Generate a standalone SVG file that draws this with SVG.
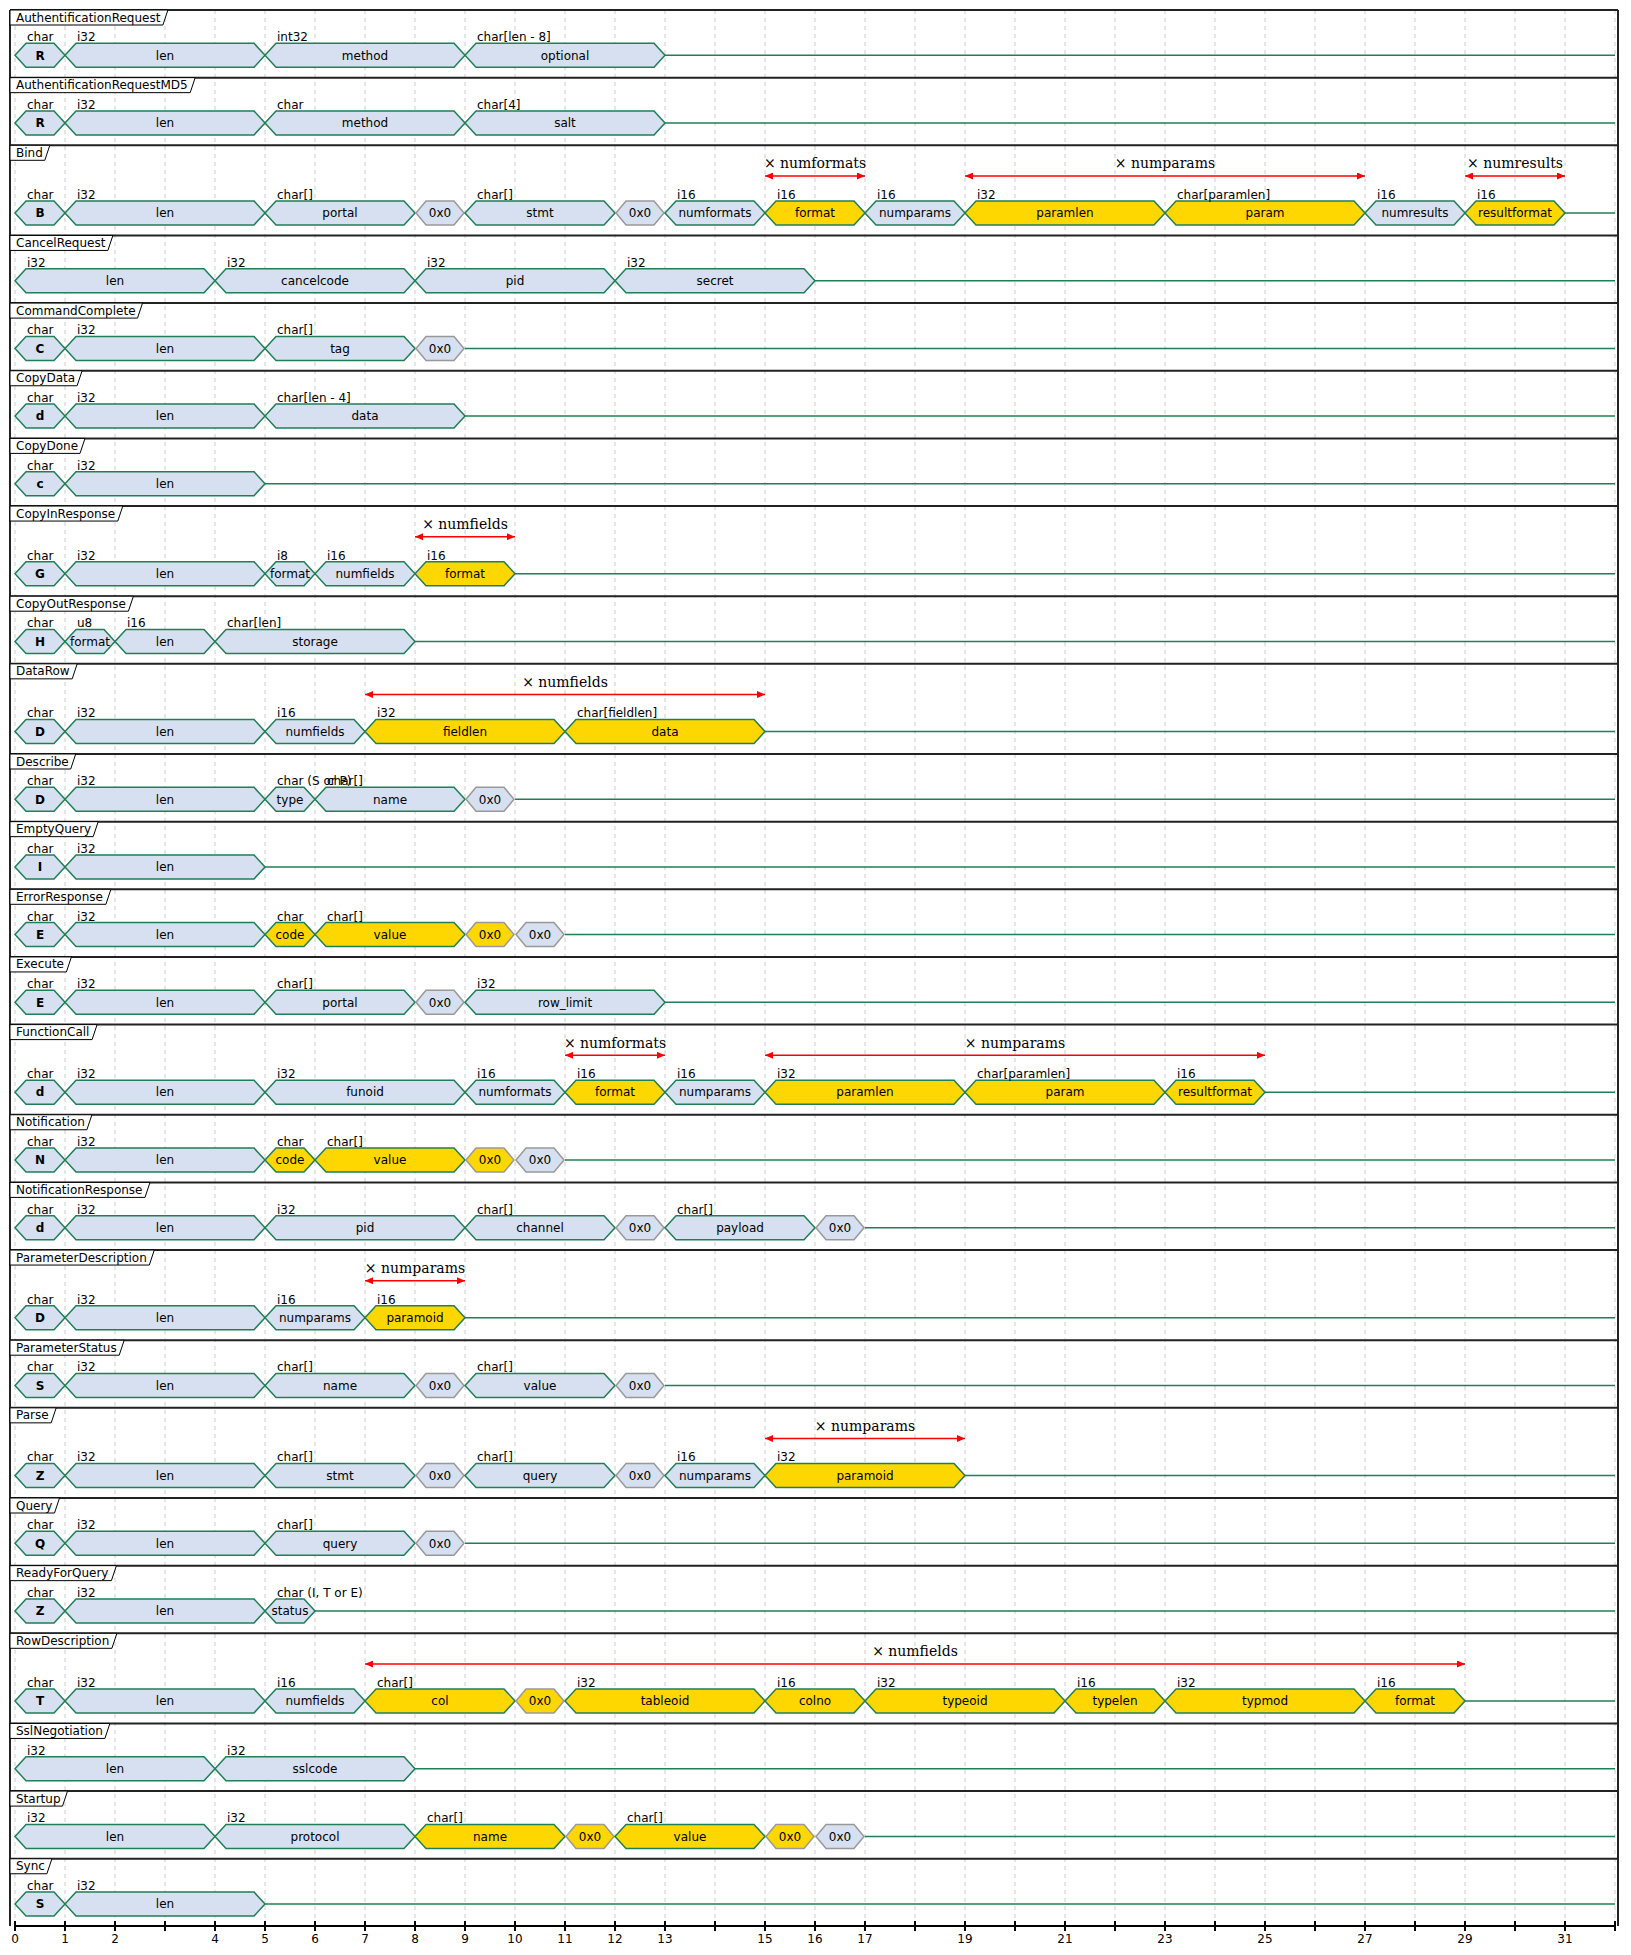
<svg xmlns="http://www.w3.org/2000/svg" width="1631" height="1955" viewBox="0 0 1631 1955">
<style>
.n{fill:#d6e0f0;stroke:#1f7f55;stroke-width:1.5}
.y{fill:#ffd700;stroke:#1f7f55;stroke-width:1.5}
.g{fill:#d6e0f0;stroke:#999;stroke-width:1.5}
.yg{fill:#ffd700;stroke:#999;stroke-width:1.5}
.ln{stroke:#1f7f55;stroke-width:1.5;fill:none}
text{font-family:"DejaVu Sans",sans-serif;font-size:12px;fill:#000}
.c{text-anchor:middle}
.b{font-weight:bold}
.r{font-family:"DejaVu Serif",serif;font-size:14px;text-anchor:middle}
.ar{stroke:#f00;stroke-width:1.5;fill:none;marker-start:url(#ah);marker-end:url(#ah)}
.hd{fill:#fff;stroke:#000;stroke-width:1}
.sep{stroke:#222;stroke-width:2;fill:none}
.grid{stroke:#ccc;stroke-dasharray:4 4;stroke-width:1;fill:none}
.ax{stroke:#000;stroke-width:2;fill:none}
</style>
<defs>
<marker id="ah" viewBox="0 0 8 7" refX="8" refY="3.5" markerWidth="8" markerHeight="7" markerUnits="userSpaceOnUse" orient="auto-start-reverse"><path d="M0,0L8,3.5L0,7z" fill="#f00"/></marker>
</defs>
<rect width="1631" height="1955" fill="#fff"/>
<path class="grid" d="M15,10V1926M65,10V1926M115,10V1926M165,10V1926M215,10V1926M265,10V1926M315,10V1926M365,10V1926M415,10V1926M465,10V1926M515,10V1926M565,10V1926M615,10V1926M665,10V1926M715,10V1926M765,10V1926M815,10V1926M865,10V1926M915,10V1926M965,10V1926M1015,10V1926M1065,10V1926M1115,10V1926M1165,10V1926M1215,10V1926M1265,10V1926M1315,10V1926M1365,10V1926M1415,10V1926M1465,10V1926M1515,10V1926M1565,10V1926M1615,10V1926"/>
<path class="sep" d="M10,10H1618M10,77.65H1618M10,145.3H1618M10,235.45H1618M10,303.1H1618M10,370.75H1618M10,438.4H1618M10,506.05H1618M10,596.2H1618M10,663.85H1618M10,754H1618M10,821.65H1618M10,889.3H1618M10,956.95H1618M10,1024.6H1618M10,1114.75H1618M10,1182.4H1618M10,1250.05H1618M10,1340.2H1618M10,1407.85H1618M10,1498H1618M10,1565.65H1618M10,1633.3H1618M10,1723.45H1618M10,1791.1H1618M10,1858.75H1618M10,10V1926M1618,10V1926"/>

<g id="connectors">
<g transform="translate(0,10)"><path class="ln" d="M665,45.3H1615"/></g>
<g transform="translate(0,77.65)"><path class="ln" d="M665,45.3H1615"/></g>
<g transform="translate(0,145.3)"><path class="ln" d="M1565,67.6H1615"/>
<path class="ar" d="M765,30.7H865"/><text class="r" x="815" y="23">× numformats</text>
<path class="ar" d="M965,30.7H1365"/><text class="r" x="1165" y="23">× numparams</text>
<path class="ar" d="M1465,30.7H1565"/><text class="r" x="1515" y="23">× numresults</text></g>
<g transform="translate(0,235.45)"><path class="ln" d="M815,45.3H1615"/></g>
<g transform="translate(0,303.1)"><path class="ln" d="M465,45.3H1615"/></g>
<g transform="translate(0,370.75)"><path class="ln" d="M465,45.3H1615"/></g>
<g transform="translate(0,438.4)"><path class="ln" d="M265,45.3H1615"/></g>
<g transform="translate(0,506.05)"><path class="ln" d="M515,67.6H1615"/>
<path class="ar" d="M415,30.7H515"/><text class="r" x="465" y="23">× numfields</text></g>
<g transform="translate(0,596.2)"><path class="ln" d="M415,45.3H1615"/></g>
<g transform="translate(0,663.85)"><path class="ln" d="M765,67.6H1615"/>
<path class="ar" d="M365,30.7H765"/><text class="r" x="565" y="23">× numfields</text></g>
<g transform="translate(0,754)"><path class="ln" d="M515,45.3H1615"/></g>
<g transform="translate(0,821.65)"><path class="ln" d="M265,45.3H1615"/></g>
<g transform="translate(0,889.3)"><path class="ln" d="M565,45.3H1615"/></g>
<g transform="translate(0,956.95)"><path class="ln" d="M665,45.3H1615"/></g>
<g transform="translate(0,1024.6)"><path class="ln" d="M1265,67.6H1615"/>
<path class="ar" d="M565,30.7H665"/><text class="r" x="615" y="23">× numformats</text>
<path class="ar" d="M765,30.7H1265"/><text class="r" x="1015" y="23">× numparams</text></g>
<g transform="translate(0,1114.75)"><path class="ln" d="M565,45.3H1615"/></g>
<g transform="translate(0,1182.4)"><path class="ln" d="M865,45.3H1615"/></g>
<g transform="translate(0,1250.05)"><path class="ln" d="M465,67.6H1615"/>
<path class="ar" d="M365,30.7H465"/><text class="r" x="415" y="23">× numparams</text></g>
<g transform="translate(0,1340.2)"><path class="ln" d="M665,45.3H1615"/></g>
<g transform="translate(0,1407.85)"><path class="ln" d="M965,67.6H1615"/>
<path class="ar" d="M765,30.7H965"/><text class="r" x="865" y="23">× numparams</text></g>
<g transform="translate(0,1498)"><path class="ln" d="M465,45.3H1615"/></g>
<g transform="translate(0,1565.65)"><path class="ln" d="M315,45.3H1615"/></g>
<g transform="translate(0,1633.3)"><path class="ln" d="M1465,67.6H1615"/>
<path class="ar" d="M365,30.7H1465"/><text class="r" x="915" y="23">× numfields</text></g>
<g transform="translate(0,1723.45)"><path class="ln" d="M415,45.3H1615"/></g>
<g transform="translate(0,1791.1)"><path class="ln" d="M865,45.3H1615"/></g>
<g transform="translate(0,1858.75)"><path class="ln" d="M265,45.3H1615"/></g>
</g>

<g id="AuthentificationRequest" transform="translate(0,10)">
<path class="hd" d="M10,0H167.9L162.9,15H10z"/><text x="16" y="11.5">AuthentificationRequest</text>
<g id="r1-R"><path class="n" d="M15,45.3l11,-12h28l11,12l-11,12h-28z"/><text x="27" y="31.3">char</text><text class="c b" x="40" y="49.6">R</text></g>
<g id="r1-len"><path class="n" d="M65,45.3l11,-12h178l11,12l-11,12h-178z"/><text x="77" y="31.3">i32</text><text class="c" x="165" y="49.6">len</text></g>
<g id="r1-method"><path class="n" d="M265,45.3l11,-12h178l11,12l-11,12h-178z"/><text x="277" y="31.3">int32</text><text class="c" x="365" y="49.6">method</text></g>
<g id="r1-optional"><path class="n" d="M465,45.3l11,-12h178l11,12l-11,12h-178z"/><text x="477" y="31.3">char[len - 8]</text><text class="c" x="565" y="49.6">optional</text></g>
</g>

<g id="AuthentificationRequestMD5" transform="translate(0,77.65)">
<path class="hd" d="M10,0H195.2L190.2,15H10z"/><text x="16" y="11.5">AuthentificationRequestMD5</text>
<g id="r2-R"><path class="n" d="M15,45.3l11,-12h28l11,12l-11,12h-28z"/><text x="27" y="31.3">char</text><text class="c b" x="40" y="49.6">R</text></g>
<g id="r2-len"><path class="n" d="M65,45.3l11,-12h178l11,12l-11,12h-178z"/><text x="77" y="31.3">i32</text><text class="c" x="165" y="49.6">len</text></g>
<g id="r2-method"><path class="n" d="M265,45.3l11,-12h178l11,12l-11,12h-178z"/><text x="277" y="31.3">char</text><text class="c" x="365" y="49.6">method</text></g>
<g id="r2-salt"><path class="n" d="M465,45.3l11,-12h178l11,12l-11,12h-178z"/><text x="477" y="31.3">char[4]</text><text class="c" x="565" y="49.6">salt</text></g>
</g>

<g id="Bind" transform="translate(0,145.3)">
<path class="hd" d="M10,0H49.8L44.8,15H10z"/><text x="16" y="11.5">Bind</text>
<g id="r3-B"><path class="n" d="M15,67.6l11,-12h28l11,12l-11,12h-28z"/><text x="27" y="53.6">char</text><text class="c b" x="40" y="71.9">B</text></g>
<g id="r3-len"><path class="n" d="M65,67.6l11,-12h178l11,12l-11,12h-178z"/><text x="77" y="53.6">i32</text><text class="c" x="165" y="71.9">len</text></g>
<g id="r3-portal"><path class="n" d="M265,67.6l11,-12h128l11,12l-11,12h-128z"/><text x="277" y="53.6">char[]</text><text class="c" x="340" y="71.9">portal</text></g>
<g id="r3-nul1"><path class="g" d="M416,67.6l10,-12h28l10,12l-10,12h-28z"/><text class="c" x="440" y="71.9">0x0</text></g>
<g id="r3-stmt"><path class="n" d="M465,67.6l11,-12h128l11,12l-11,12h-128z"/><text x="477" y="53.6">char[]</text><text class="c" x="540" y="71.9">stmt</text></g>
<g id="r3-nul2"><path class="g" d="M616,67.6l10,-12h28l10,12l-10,12h-28z"/><text class="c" x="640" y="71.9">0x0</text></g>
<g id="r3-numformats"><path class="n" d="M665,67.6l11,-12h78l11,12l-11,12h-78z"/><text x="677" y="53.6">i16</text><text class="c" x="715" y="71.9">numformats</text></g>
<g id="r3-format"><path class="y" d="M765,67.6l11,-12h78l11,12l-11,12h-78z"/><text x="777" y="53.6">i16</text><text class="c" x="815" y="71.9">format</text></g>
<g id="r3-numparams"><path class="n" d="M865,67.6l11,-12h78l11,12l-11,12h-78z"/><text x="877" y="53.6">i16</text><text class="c" x="915" y="71.9">numparams</text></g>
<g id="r3-paramlen"><path class="y" d="M965,67.6l11,-12h178l11,12l-11,12h-178z"/><text x="977" y="53.6">i32</text><text class="c" x="1065" y="71.9">paramlen</text></g>
<g id="r3-param"><path class="y" d="M1165,67.6l11,-12h178l11,12l-11,12h-178z"/><text x="1177" y="53.6">char[paramlen]</text><text class="c" x="1265" y="71.9">param</text></g>
<g id="r3-numresults"><path class="n" d="M1365,67.6l11,-12h78l11,12l-11,12h-78z"/><text x="1377" y="53.6">i16</text><text class="c" x="1415" y="71.9">numresults</text></g>
<g id="r3-resultformat"><path class="y" d="M1465,67.6l11,-12h78l11,12l-11,12h-78z"/><text x="1477" y="53.6">i16</text><text class="c" x="1515" y="71.9">resultformat</text></g>
</g>

<g id="CancelRequest" transform="translate(0,235.45)">
<path class="hd" d="M10,0H112.9L107.9,15H10z"/><text x="16" y="11.5">CancelRequest</text>
<g id="r4-len"><path class="n" d="M15,45.3l11,-12h178l11,12l-11,12h-178z"/><text x="27" y="31.3">i32</text><text class="c" x="115" y="49.6">len</text></g>
<g id="r4-cancelcode"><path class="n" d="M215,45.3l11,-12h178l11,12l-11,12h-178z"/><text x="227" y="31.3">i32</text><text class="c" x="315" y="49.6">cancelcode</text></g>
<g id="r4-pid"><path class="n" d="M415,45.3l11,-12h178l11,12l-11,12h-178z"/><text x="427" y="31.3">i32</text><text class="c" x="515" y="49.6">pid</text></g>
<g id="r4-secret"><path class="n" d="M615,45.3l11,-12h178l11,12l-11,12h-178z"/><text x="627" y="31.3">i32</text><text class="c" x="715" y="49.6">secret</text></g>
</g>

<g id="CommandComplete" transform="translate(0,303.1)">
<path class="hd" d="M10,0H142.5L137.5,15H10z"/><text x="16" y="11.5">CommandComplete</text>
<g id="r5-C"><path class="n" d="M15,45.3l11,-12h28l11,12l-11,12h-28z"/><text x="27" y="31.3">char</text><text class="c b" x="40" y="49.6">C</text></g>
<g id="r5-len"><path class="n" d="M65,45.3l11,-12h178l11,12l-11,12h-178z"/><text x="77" y="31.3">i32</text><text class="c" x="165" y="49.6">len</text></g>
<g id="r5-tag"><path class="n" d="M265,45.3l11,-12h128l11,12l-11,12h-128z"/><text x="277" y="31.3">char[]</text><text class="c" x="340" y="49.6">tag</text></g>
<g id="r5-nul"><path class="g" d="M416,45.3l10,-12h28l10,12l-10,12h-28z"/><text class="c" x="440" y="49.6">0x0</text></g>
</g>

<g id="CopyData" transform="translate(0,370.75)">
<path class="hd" d="M10,0H82.1L77.1,15H10z"/><text x="16" y="11.5">CopyData</text>
<g id="r6-d"><path class="n" d="M15,45.3l11,-12h28l11,12l-11,12h-28z"/><text x="27" y="31.3">char</text><text class="c b" x="40" y="49.6">d</text></g>
<g id="r6-len"><path class="n" d="M65,45.3l11,-12h178l11,12l-11,12h-178z"/><text x="77" y="31.3">i32</text><text class="c" x="165" y="49.6">len</text></g>
<g id="r6-data"><path class="n" d="M265,45.3l11,-12h178l11,12l-11,12h-178z"/><text x="277" y="31.3">char[len - 4]</text><text class="c" x="365" y="49.6">data</text></g>
</g>

<g id="CopyDone" transform="translate(0,438.4)">
<path class="hd" d="M10,0H85L80,15H10z"/><text x="16" y="11.5">CopyDone</text>
<g id="r7-c"><path class="n" d="M15,45.3l11,-12h28l11,12l-11,12h-28z"/><text x="27" y="31.3">char</text><text class="c b" x="40" y="49.6">c</text></g>
<g id="r7-len"><path class="n" d="M65,45.3l11,-12h178l11,12l-11,12h-178z"/><text x="77" y="31.3">i32</text><text class="c" x="165" y="49.6">len</text></g>
</g>

<g id="CopyInResponse" transform="translate(0,506.05)">
<path class="hd" d="M10,0H122.8L117.8,15H10z"/><text x="16" y="11.5">CopyInResponse</text>
<g id="r8-G"><path class="n" d="M15,67.6l11,-12h28l11,12l-11,12h-28z"/><text x="27" y="53.6">char</text><text class="c b" x="40" y="71.9">G</text></g>
<g id="r8-len"><path class="n" d="M65,67.6l11,-12h178l11,12l-11,12h-178z"/><text x="77" y="53.6">i32</text><text class="c" x="165" y="71.9">len</text></g>
<g id="r8-format1"><path class="n" d="M265,67.6l11,-12h28l11,12l-11,12h-28z"/><text x="277" y="53.6">i8</text><text class="c" x="290" y="71.9">format</text></g>
<g id="r8-numfields"><path class="n" d="M315,67.6l11,-12h78l11,12l-11,12h-78z"/><text x="327" y="53.6">i16</text><text class="c" x="365" y="71.9">numfields</text></g>
<g id="r8-format2"><path class="y" d="M415,67.6l11,-12h78l11,12l-11,12h-78z"/><text x="427" y="53.6">i16</text><text class="c" x="465" y="71.9">format</text></g>
</g>

<g id="CopyOutResponse" transform="translate(0,596.2)">
<path class="hd" d="M10,0H133.4L128.4,15H10z"/><text x="16" y="11.5">CopyOutResponse</text>
<g id="r9-H"><path class="n" d="M15,45.3l11,-12h28l11,12l-11,12h-28z"/><text x="27" y="31.3">char</text><text class="c b" x="40" y="49.6">H</text></g>
<g id="r9-format"><path class="n" d="M65,45.3l11,-12h28l11,12l-11,12h-28z"/><text x="77" y="31.3">u8</text><text class="c" x="90" y="49.6">format</text></g>
<g id="r9-len"><path class="n" d="M115,45.3l11,-12h78l11,12l-11,12h-78z"/><text x="127" y="31.3">i16</text><text class="c" x="165" y="49.6">len</text></g>
<g id="r9-storage"><path class="n" d="M215,45.3l11,-12h178l11,12l-11,12h-178z"/><text x="227" y="31.3">char[len]</text><text class="c" x="315" y="49.6">storage</text></g>
</g>

<g id="DataRow" transform="translate(0,663.85)">
<path class="hd" d="M10,0H77.2L72.2,15H10z"/><text x="16" y="11.5">DataRow</text>
<g id="r10-D"><path class="n" d="M15,67.6l11,-12h28l11,12l-11,12h-28z"/><text x="27" y="53.6">char</text><text class="c b" x="40" y="71.9">D</text></g>
<g id="r10-len"><path class="n" d="M65,67.6l11,-12h178l11,12l-11,12h-178z"/><text x="77" y="53.6">i32</text><text class="c" x="165" y="71.9">len</text></g>
<g id="r10-numfields"><path class="n" d="M265,67.6l11,-12h78l11,12l-11,12h-78z"/><text x="277" y="53.6">i16</text><text class="c" x="315" y="71.9">numfields</text></g>
<g id="r10-fieldlen"><path class="y" d="M365,67.6l11,-12h178l11,12l-11,12h-178z"/><text x="377" y="53.6">i32</text><text class="c" x="465" y="71.9">fieldlen</text></g>
<g id="r10-data"><path class="y" d="M565,67.6l11,-12h178l11,12l-11,12h-178z"/><text x="577" y="53.6">char[fieldlen]</text><text class="c" x="665" y="71.9">data</text></g>
</g>

<g id="Describe" transform="translate(0,754)">
<path class="hd" d="M10,0H75.7L70.7,15H10z"/><text x="16" y="11.5">Describe</text>
<g id="r11-D"><path class="n" d="M15,45.3l11,-12h28l11,12l-11,12h-28z"/><text x="27" y="31.3">char</text><text class="c b" x="40" y="49.6">D</text></g>
<g id="r11-len"><path class="n" d="M65,45.3l11,-12h178l11,12l-11,12h-178z"/><text x="77" y="31.3">i32</text><text class="c" x="165" y="49.6">len</text></g>
<g id="r11-type"><path class="n" d="M265,45.3l11,-12h28l11,12l-11,12h-28z"/><text x="277" y="31.3">char (S or P)</text><text class="c" x="290" y="49.6">type</text></g>
<g id="r11-name"><path class="n" d="M315,45.3l11,-12h128l11,12l-11,12h-128z"/><text x="327" y="31.3">char[]</text><text class="c" x="390" y="49.6">name</text></g>
<g id="r11-nul"><path class="g" d="M466,45.3l10,-12h28l10,12l-10,12h-28z"/><text class="c" x="490" y="49.6">0x0</text></g>
</g>

<g id="EmptyQuery" transform="translate(0,821.65)">
<path class="hd" d="M10,0H98.2L93.2,15H10z"/><text x="16" y="11.5">EmptyQuery</text>
<g id="r12-I"><path class="n" d="M15,45.3l11,-12h28l11,12l-11,12h-28z"/><text x="27" y="31.3">char</text><text class="c b" x="40" y="49.6">I</text></g>
<g id="r12-len"><path class="n" d="M65,45.3l11,-12h178l11,12l-11,12h-178z"/><text x="77" y="31.3">i32</text><text class="c" x="165" y="49.6">len</text></g>
</g>

<g id="ErrorResponse" transform="translate(0,889.3)">
<path class="hd" d="M10,0H110.9L105.9,15H10z"/><text x="16" y="11.5">ErrorResponse</text>
<g id="r13-E"><path class="n" d="M15,45.3l11,-12h28l11,12l-11,12h-28z"/><text x="27" y="31.3">char</text><text class="c b" x="40" y="49.6">E</text></g>
<g id="r13-len"><path class="n" d="M65,45.3l11,-12h178l11,12l-11,12h-178z"/><text x="77" y="31.3">i32</text><text class="c" x="165" y="49.6">len</text></g>
<g id="r13-code"><path class="y" d="M265,45.3l11,-12h28l11,12l-11,12h-28z"/><text x="277" y="31.3">char</text><text class="c" x="290" y="49.6">code</text></g>
<g id="r13-value"><path class="y" d="M315,45.3l11,-12h128l11,12l-11,12h-128z"/><text x="327" y="31.3">char[]</text><text class="c" x="390" y="49.6">value</text></g>
<g id="r13-nul1"><path class="yg" d="M466,45.3l10,-12h28l10,12l-10,12h-28z"/><text class="c" x="490" y="49.6">0x0</text></g>
<g id="r13-nul2"><path class="g" d="M516,45.3l10,-12h28l10,12l-10,12h-28z"/><text class="c" x="540" y="49.6">0x0</text></g>
</g>

<g id="Execute" transform="translate(0,956.95)">
<path class="hd" d="M10,0H71.4L66.4,15H10z"/><text x="16" y="11.5">Execute</text>
<g id="r14-E"><path class="n" d="M15,45.3l11,-12h28l11,12l-11,12h-28z"/><text x="27" y="31.3">char</text><text class="c b" x="40" y="49.6">E</text></g>
<g id="r14-len"><path class="n" d="M65,45.3l11,-12h178l11,12l-11,12h-178z"/><text x="77" y="31.3">i32</text><text class="c" x="165" y="49.6">len</text></g>
<g id="r14-portal"><path class="n" d="M265,45.3l11,-12h128l11,12l-11,12h-128z"/><text x="277" y="31.3">char[]</text><text class="c" x="340" y="49.6">portal</text></g>
<g id="r14-nul"><path class="g" d="M416,45.3l10,-12h28l10,12l-10,12h-28z"/><text class="c" x="440" y="49.6">0x0</text></g>
<g id="r14-row_limit"><path class="n" d="M465,45.3l11,-12h178l11,12l-11,12h-178z"/><text x="477" y="31.3">i32</text><text class="c" x="565" y="49.6">row_limit</text></g>
</g>

<g id="FunctionCall" transform="translate(0,1024.6)">
<path class="hd" d="M10,0H97.1L92.1,15H10z"/><text x="16" y="11.5">FunctionCall</text>
<g id="r15-d"><path class="n" d="M15,67.6l11,-12h28l11,12l-11,12h-28z"/><text x="27" y="53.6">char</text><text class="c b" x="40" y="71.9">d</text></g>
<g id="r15-len"><path class="n" d="M65,67.6l11,-12h178l11,12l-11,12h-178z"/><text x="77" y="53.6">i32</text><text class="c" x="165" y="71.9">len</text></g>
<g id="r15-funoid"><path class="n" d="M265,67.6l11,-12h178l11,12l-11,12h-178z"/><text x="277" y="53.6">i32</text><text class="c" x="365" y="71.9">funoid</text></g>
<g id="r15-numformats"><path class="n" d="M465,67.6l11,-12h78l11,12l-11,12h-78z"/><text x="477" y="53.6">i16</text><text class="c" x="515" y="71.9">numformats</text></g>
<g id="r15-format"><path class="y" d="M565,67.6l11,-12h78l11,12l-11,12h-78z"/><text x="577" y="53.6">i16</text><text class="c" x="615" y="71.9">format</text></g>
<g id="r15-numparams"><path class="n" d="M665,67.6l11,-12h78l11,12l-11,12h-78z"/><text x="677" y="53.6">i16</text><text class="c" x="715" y="71.9">numparams</text></g>
<g id="r15-paramlen"><path class="y" d="M765,67.6l11,-12h178l11,12l-11,12h-178z"/><text x="777" y="53.6">i32</text><text class="c" x="865" y="71.9">paramlen</text></g>
<g id="r15-param"><path class="y" d="M965,67.6l11,-12h178l11,12l-11,12h-178z"/><text x="977" y="53.6">char[paramlen]</text><text class="c" x="1065" y="71.9">param</text></g>
<g id="r15-resultformat"><path class="y" d="M1165,67.6l11,-12h78l11,12l-11,12h-78z"/><text x="1177" y="53.6">i16</text><text class="c" x="1215" y="71.9">resultformat</text></g>
</g>

<g id="Notification" transform="translate(0,1114.75)">
<path class="hd" d="M10,0H91.9L86.9,15H10z"/><text x="16" y="11.5">Notification</text>
<g id="r16-N"><path class="n" d="M15,45.3l11,-12h28l11,12l-11,12h-28z"/><text x="27" y="31.3">char</text><text class="c b" x="40" y="49.6">N</text></g>
<g id="r16-len"><path class="n" d="M65,45.3l11,-12h178l11,12l-11,12h-178z"/><text x="77" y="31.3">i32</text><text class="c" x="165" y="49.6">len</text></g>
<g id="r16-code"><path class="y" d="M265,45.3l11,-12h28l11,12l-11,12h-28z"/><text x="277" y="31.3">char</text><text class="c" x="290" y="49.6">code</text></g>
<g id="r16-value"><path class="y" d="M315,45.3l11,-12h128l11,12l-11,12h-128z"/><text x="327" y="31.3">char[]</text><text class="c" x="390" y="49.6">value</text></g>
<g id="r16-nul1"><path class="yg" d="M466,45.3l10,-12h28l10,12l-10,12h-28z"/><text class="c" x="490" y="49.6">0x0</text></g>
<g id="r16-nul2"><path class="g" d="M516,45.3l10,-12h28l10,12l-10,12h-28z"/><text class="c" x="540" y="49.6">0x0</text></g>
</g>

<g id="NotificationResponse" transform="translate(0,1182.4)">
<path class="hd" d="M10,0H150L145,15H10z"/><text x="16" y="11.5">NotificationResponse</text>
<g id="r17-d"><path class="n" d="M15,45.3l11,-12h28l11,12l-11,12h-28z"/><text x="27" y="31.3">char</text><text class="c b" x="40" y="49.6">d</text></g>
<g id="r17-len"><path class="n" d="M65,45.3l11,-12h178l11,12l-11,12h-178z"/><text x="77" y="31.3">i32</text><text class="c" x="165" y="49.6">len</text></g>
<g id="r17-pid"><path class="n" d="M265,45.3l11,-12h178l11,12l-11,12h-178z"/><text x="277" y="31.3">i32</text><text class="c" x="365" y="49.6">pid</text></g>
<g id="r17-channel"><path class="n" d="M465,45.3l11,-12h128l11,12l-11,12h-128z"/><text x="477" y="31.3">char[]</text><text class="c" x="540" y="49.6">channel</text></g>
<g id="r17-nul1"><path class="g" d="M616,45.3l10,-12h28l10,12l-10,12h-28z"/><text class="c" x="640" y="49.6">0x0</text></g>
<g id="r17-payload"><path class="n" d="M665,45.3l11,-12h128l11,12l-11,12h-128z"/><text x="677" y="31.3">char[]</text><text class="c" x="740" y="49.6">payload</text></g>
<g id="r17-nul2"><path class="g" d="M816,45.3l10,-12h28l10,12l-10,12h-28z"/><text class="c" x="840" y="49.6">0x0</text></g>
</g>

<g id="ParameterDescription" transform="translate(0,1250.05)">
<path class="hd" d="M10,0H154.3L149.3,15H10z"/><text x="16" y="11.5">ParameterDescription</text>
<g id="r18-D"><path class="n" d="M15,67.6l11,-12h28l11,12l-11,12h-28z"/><text x="27" y="53.6">char</text><text class="c b" x="40" y="71.9">D</text></g>
<g id="r18-len"><path class="n" d="M65,67.6l11,-12h178l11,12l-11,12h-178z"/><text x="77" y="53.6">i32</text><text class="c" x="165" y="71.9">len</text></g>
<g id="r18-numparams"><path class="n" d="M265,67.6l11,-12h78l11,12l-11,12h-78z"/><text x="277" y="53.6">i16</text><text class="c" x="315" y="71.9">numparams</text></g>
<g id="r18-paramoid"><path class="y" d="M365,67.6l11,-12h78l11,12l-11,12h-78z"/><text x="377" y="53.6">i16</text><text class="c" x="415" y="71.9">paramoid</text></g>
</g>

<g id="ParameterStatus" transform="translate(0,1340.2)">
<path class="hd" d="M10,0H124.2L119.2,15H10z"/><text x="16" y="11.5">ParameterStatus</text>
<g id="r19-S"><path class="n" d="M15,45.3l11,-12h28l11,12l-11,12h-28z"/><text x="27" y="31.3">char</text><text class="c b" x="40" y="49.6">S</text></g>
<g id="r19-len"><path class="n" d="M65,45.3l11,-12h178l11,12l-11,12h-178z"/><text x="77" y="31.3">i32</text><text class="c" x="165" y="49.6">len</text></g>
<g id="r19-name"><path class="n" d="M265,45.3l11,-12h128l11,12l-11,12h-128z"/><text x="277" y="31.3">char[]</text><text class="c" x="340" y="49.6">name</text></g>
<g id="r19-nul1"><path class="g" d="M416,45.3l10,-12h28l10,12l-10,12h-28z"/><text class="c" x="440" y="49.6">0x0</text></g>
<g id="r19-value"><path class="n" d="M465,45.3l11,-12h128l11,12l-11,12h-128z"/><text x="477" y="31.3">char[]</text><text class="c" x="540" y="49.6">value</text></g>
<g id="r19-nul2"><path class="g" d="M616,45.3l10,-12h28l10,12l-10,12h-28z"/><text class="c" x="640" y="49.6">0x0</text></g>
</g>

<g id="Parse" transform="translate(0,1407.85)">
<path class="hd" d="M10,0H56.2L51.2,15H10z"/><text x="16" y="11.5">Parse</text>
<g id="r20-Z"><path class="n" d="M15,67.6l11,-12h28l11,12l-11,12h-28z"/><text x="27" y="53.6">char</text><text class="c b" x="40" y="71.9">Z</text></g>
<g id="r20-len"><path class="n" d="M65,67.6l11,-12h178l11,12l-11,12h-178z"/><text x="77" y="53.6">i32</text><text class="c" x="165" y="71.9">len</text></g>
<g id="r20-stmt"><path class="n" d="M265,67.6l11,-12h128l11,12l-11,12h-128z"/><text x="277" y="53.6">char[]</text><text class="c" x="340" y="71.9">stmt</text></g>
<g id="r20-nul1"><path class="g" d="M416,67.6l10,-12h28l10,12l-10,12h-28z"/><text class="c" x="440" y="71.9">0x0</text></g>
<g id="r20-query"><path class="n" d="M465,67.6l11,-12h128l11,12l-11,12h-128z"/><text x="477" y="53.6">char[]</text><text class="c" x="540" y="71.9">query</text></g>
<g id="r20-nul2"><path class="g" d="M616,67.6l10,-12h28l10,12l-10,12h-28z"/><text class="c" x="640" y="71.9">0x0</text></g>
<g id="r20-numparams"><path class="n" d="M665,67.6l11,-12h78l11,12l-11,12h-78z"/><text x="677" y="53.6">i16</text><text class="c" x="715" y="71.9">numparams</text></g>
<g id="r20-paramoid"><path class="y" d="M765,67.6l11,-12h178l11,12l-11,12h-178z"/><text x="777" y="53.6">i32</text><text class="c" x="865" y="71.9">paramoid</text></g>
</g>

<g id="Query" transform="translate(0,1498)">
<path class="hd" d="M10,0H59.5L54.5,15H10z"/><text x="16" y="11.5">Query</text>
<g id="r21-Q"><path class="n" d="M15,45.3l11,-12h28l11,12l-11,12h-28z"/><text x="27" y="31.3">char</text><text class="c b" x="40" y="49.6">Q</text></g>
<g id="r21-len"><path class="n" d="M65,45.3l11,-12h178l11,12l-11,12h-178z"/><text x="77" y="31.3">i32</text><text class="c" x="165" y="49.6">len</text></g>
<g id="r21-query"><path class="n" d="M265,45.3l11,-12h128l11,12l-11,12h-128z"/><text x="277" y="31.3">char[]</text><text class="c" x="340" y="49.6">query</text></g>
<g id="r21-nul"><path class="g" d="M416,45.3l10,-12h28l10,12l-10,12h-28z"/><text class="c" x="440" y="49.6">0x0</text></g>
</g>

<g id="ReadyForQuery" transform="translate(0,1565.65)">
<path class="hd" d="M10,0H116.4L111.4,15H10z"/><text x="16" y="11.5">ReadyForQuery</text>
<g id="r22-Z"><path class="n" d="M15,45.3l11,-12h28l11,12l-11,12h-28z"/><text x="27" y="31.3">char</text><text class="c b" x="40" y="49.6">Z</text></g>
<g id="r22-len"><path class="n" d="M65,45.3l11,-12h178l11,12l-11,12h-178z"/><text x="77" y="31.3">i32</text><text class="c" x="165" y="49.6">len</text></g>
<g id="r22-status"><path class="n" d="M265,45.3l11,-12h28l11,12l-11,12h-28z"/><text x="277" y="31.3">char (I, T or E)</text><text class="c" x="290" y="49.6">status</text></g>
</g>

<g id="RowDescription" transform="translate(0,1633.3)">
<path class="hd" d="M10,0H116.9L111.9,15H10z"/><text x="16" y="11.5">RowDescription</text>
<g id="r23-T"><path class="n" d="M15,67.6l11,-12h28l11,12l-11,12h-28z"/><text x="27" y="53.6">char</text><text class="c b" x="40" y="71.9">T</text></g>
<g id="r23-len"><path class="n" d="M65,67.6l11,-12h178l11,12l-11,12h-178z"/><text x="77" y="53.6">i32</text><text class="c" x="165" y="71.9">len</text></g>
<g id="r23-numfields"><path class="n" d="M265,67.6l11,-12h78l11,12l-11,12h-78z"/><text x="277" y="53.6">i16</text><text class="c" x="315" y="71.9">numfields</text></g>
<g id="r23-col"><path class="y" d="M365,67.6l11,-12h128l11,12l-11,12h-128z"/><text x="377" y="53.6">char[]</text><text class="c" x="440" y="71.9">col</text></g>
<g id="r23-nul"><path class="yg" d="M516,67.6l10,-12h28l10,12l-10,12h-28z"/><text class="c" x="540" y="71.9">0x0</text></g>
<g id="r23-tableoid"><path class="y" d="M565,67.6l11,-12h178l11,12l-11,12h-178z"/><text x="577" y="53.6">i32</text><text class="c" x="665" y="71.9">tableoid</text></g>
<g id="r23-colno"><path class="y" d="M765,67.6l11,-12h78l11,12l-11,12h-78z"/><text x="777" y="53.6">i16</text><text class="c" x="815" y="71.9">colno</text></g>
<g id="r23-typeoid"><path class="y" d="M865,67.6l11,-12h178l11,12l-11,12h-178z"/><text x="877" y="53.6">i32</text><text class="c" x="965" y="71.9">typeoid</text></g>
<g id="r23-typelen"><path class="y" d="M1065,67.6l11,-12h78l11,12l-11,12h-78z"/><text x="1077" y="53.6">i16</text><text class="c" x="1115" y="71.9">typelen</text></g>
<g id="r23-typmod"><path class="y" d="M1165,67.6l11,-12h178l11,12l-11,12h-178z"/><text x="1177" y="53.6">i32</text><text class="c" x="1265" y="71.9">typmod</text></g>
<g id="r23-format"><path class="y" d="M1365,67.6l11,-12h78l11,12l-11,12h-78z"/><text x="1377" y="53.6">i16</text><text class="c" x="1415" y="71.9">format</text></g>
</g>

<g id="SslNegotiation" transform="translate(0,1723.45)">
<path class="hd" d="M10,0H109.9L104.9,15H10z"/><text x="16" y="11.5">SslNegotiation</text>
<g id="r24-len"><path class="n" d="M15,45.3l11,-12h178l11,12l-11,12h-178z"/><text x="27" y="31.3">i32</text><text class="c" x="115" y="49.6">len</text></g>
<g id="r24-sslcode"><path class="n" d="M215,45.3l11,-12h178l11,12l-11,12h-178z"/><text x="227" y="31.3">i32</text><text class="c" x="315" y="49.6">sslcode</text></g>
</g>

<g id="Startup" transform="translate(0,1791.1)">
<path class="hd" d="M10,0H67.5L62.5,15H10z"/><text x="16" y="11.5">Startup</text>
<g id="r25-len"><path class="n" d="M15,45.3l11,-12h178l11,12l-11,12h-178z"/><text x="27" y="31.3">i32</text><text class="c" x="115" y="49.6">len</text></g>
<g id="r25-protocol"><path class="n" d="M215,45.3l11,-12h178l11,12l-11,12h-178z"/><text x="227" y="31.3">i32</text><text class="c" x="315" y="49.6">protocol</text></g>
<g id="r25-name"><path class="y" d="M415,45.3l11,-12h128l11,12l-11,12h-128z"/><text x="427" y="31.3">char[]</text><text class="c" x="490" y="49.6">name</text></g>
<g id="r25-nul1"><path class="yg" d="M566,45.3l10,-12h28l10,12l-10,12h-28z"/><text class="c" x="590" y="49.6">0x0</text></g>
<g id="r25-value"><path class="y" d="M615,45.3l11,-12h128l11,12l-11,12h-128z"/><text x="627" y="31.3">char[]</text><text class="c" x="690" y="49.6">value</text></g>
<g id="r25-nul2"><path class="yg" d="M766,45.3l10,-12h28l10,12l-10,12h-28z"/><text class="c" x="790" y="49.6">0x0</text></g>
<g id="r25-nul3"><path class="g" d="M816,45.3l10,-12h28l10,12l-10,12h-28z"/><text class="c" x="840" y="49.6">0x0</text></g>
</g>

<g id="Sync" transform="translate(0,1858.75)">
<path class="hd" d="M10,0H51.9L46.9,15H10z"/><text x="16" y="11.5">Sync</text>
<g id="r26-S"><path class="n" d="M15,45.3l11,-12h28l11,12l-11,12h-28z"/><text x="27" y="31.3">char</text><text class="c b" x="40" y="49.6">S</text></g>
<g id="r26-len"><path class="n" d="M65,45.3l11,-12h178l11,12l-11,12h-178z"/><text x="77" y="31.3">i32</text><text class="c" x="165" y="49.6">len</text></g>
</g>

<g id="axis">
<path class="ax" d="M14,1926H1616"/>
<path class="ax" d="M15,1921V1931M65,1921V1931M115,1921V1931M165,1921V1931M215,1921V1931M265,1921V1931M315,1921V1931M365,1921V1931M415,1921V1931M465,1921V1931M515,1921V1931M565,1921V1931M615,1921V1931M665,1921V1931M715,1921V1931M765,1921V1931M815,1921V1931M865,1921V1931M915,1921V1931M965,1921V1931M1015,1921V1931M1065,1921V1931M1115,1921V1931M1165,1921V1931M1215,1921V1931M1265,1921V1931M1315,1921V1931M1365,1921V1931M1415,1921V1931M1465,1921V1931M1515,1921V1931M1565,1921V1931M1615,1921V1931"/>
<g class="c">
<text class="c" x="15" y="1943">0</text><text class="c" x="65" y="1943">1</text><text class="c" x="115" y="1943">2</text><text class="c" x="215" y="1943">4</text><text class="c" x="265" y="1943">5</text><text class="c" x="315" y="1943">6</text><text class="c" x="365" y="1943">7</text><text class="c" x="415" y="1943">8</text><text class="c" x="465" y="1943">9</text><text class="c" x="515" y="1943">10</text><text class="c" x="565" y="1943">11</text><text class="c" x="615" y="1943">12</text><text class="c" x="665" y="1943">13</text><text class="c" x="765" y="1943">15</text><text class="c" x="815" y="1943">16</text><text class="c" x="865" y="1943">17</text><text class="c" x="965" y="1943">19</text><text class="c" x="1065" y="1943">21</text><text class="c" x="1165" y="1943">23</text><text class="c" x="1265" y="1943">25</text><text class="c" x="1365" y="1943">27</text><text class="c" x="1465" y="1943">29</text><text class="c" x="1565" y="1943">31</text>
</g>
</g>
</svg>
